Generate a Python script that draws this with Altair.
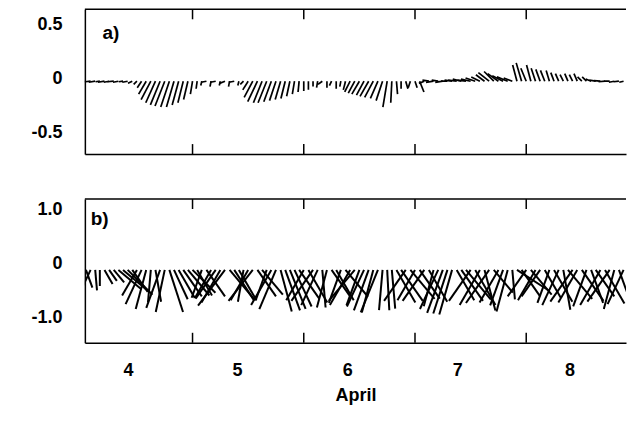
import altair as alt
import pandas as pd

# ---------------- data ----------------
hours = list(range(1, 118))  # hourly samples, hour counted from 00:00 April 4

# panel a : vector components (u east, v north)
va = [-0.01, -0.005, -0.01, -0.005, -0.01, -0.01, -0.005, -0.01, -0.005, -0.01, -0.02, -0.03,
      -0.06, -0.12, -0.17, -0.20, -0.22, -0.23, -0.24, -0.24, -0.22, -0.20, -0.17, -0.12, -0.07,
      -0.04, -0.01, -0.05, -0.01, -0.04, -0.02, -0.05, -0.01, -0.04, -0.03,
      -0.08, -0.15, -0.19, -0.20, -0.20, -0.19, -0.18, -0.17, -0.16, -0.14, -0.12, -0.10, -0.09,
      -0.08, -0.05, -0.06, -0.03, -0.06, -0.04, -0.07, -0.05, -0.08,
      -0.10, -0.11, -0.12, -0.13, -0.14, -0.15, -0.16, -0.18, -0.24, -0.20, -0.12, -0.07, -0.07,
      -0.06, -0.06, -0.10, -0.02, 0.01, -0.01, 0.01, -0.01, 0.0, 0.01, 0.01, 0.02,
      0.01, 0.02, 0.03, 0.04, 0.06, 0.08, 0.09, 0.07, 0.05, 0.04, 0.03,
      0.15, 0.17, 0.12, 0.15, 0.12, 0.11, 0.10, 0.10, 0.08, 0.07, 0.06, 0.07, 0.06, 0.07, 0.04,
      0.04, 0.02, 0.01, 0.005, -0.005, 0.0, -0.01, -0.005, -0.01]
ua = [-0.06, -0.05, -0.06, -0.04, -0.06, -0.05, -0.06, -0.05, -0.04, -0.05, -0.04, -0.03,
      -0.04, -0.07, -0.09, -0.09, -0.09, -0.09, -0.08, -0.07, -0.06, -0.05, -0.04, -0.02, -0.01,
      -0.01, -0.05, -0.01, -0.05, -0.01, -0.05, -0.01, -0.05, -0.01, -0.03,
      -0.05, -0.08, -0.09, -0.08, -0.08, -0.07, -0.06, -0.05, -0.04, -0.03, -0.02, -0.01, 0.0,
      0.0, 0.0, -0.01, -0.04, 0.0, -0.02, 0.0, -0.01, -0.02,
      -0.05, -0.06, -0.07, -0.07, -0.08, -0.08, -0.07, -0.06, -0.04, -0.01, 0.01, 0.0, 0.02,
      -0.02, 0.02, 0.04, -0.05, -0.06, -0.07, -0.06, -0.07, -0.06, -0.07, -0.08, -0.08,
      -0.08, -0.09, -0.09, -0.08, -0.08, -0.10, -0.09, -0.10, -0.10, -0.10, -0.08,
      -0.04, -0.05, -0.05, -0.04, -0.04, -0.04, -0.04, -0.03, -0.03, -0.03, -0.03, -0.03, -0.03,
      -0.03, -0.04, -0.04, -0.05, -0.06, -0.06, -0.06, -0.05, -0.05, -0.05, -0.04]

# panel b : direction (deg from south, + = towards east) and speed
ang_b = [20, -25, 5, 0, 30, 35, 40, 50, 50, 45,
         35, -30, -25, -15, -5, 10, -20, -12, 18, 25,
         30, 35, 40, 45, 30, -20, 35, -30, -35, -30,
         -37, 40, 33, 30, -10, -30, -38, 35, 40, -20,
         -30, -23, 15, 20, 22, 25, 35, -30, 30, -35,
         -25, 5, -15, 35, 30, -20, 40, -30, -40, -20,
         -25, -20, -15, -22, -5, 3, 5, 30, 35, -35,
         40, -30, 35, -35, 30, -15, -25, -20, -18, -16,
         30, 35, 40, -35, 30, -30, 15, -35, 40, -30,
         -20, -15, 5, 57, 35, -35, 40, -30, -35, 30,
         -20, 30, -25, 10, 40, -35, -30, 35, -20, 20,
         35, -30, 30, -35, -15, 20, -25]
len_b = [0.35, 0.38, 0.38, 0.30, 0.30, 0.25, 0.30, 0.55, 0.60, 0.65,
         0.50, 0.55, 0.70, 0.75, 0.60, 0.60, 0.75, 0.80, 0.82, 0.60,
         0.60, 0.60, 0.62, 0.60, 0.55, 0.55, 0.60, 0.60, 0.65, 0.70,
         0.83, 0.70, 0.68, 0.65, 0.60, 0.65, 0.73, 0.60, 0.60, 0.60,
         0.75, 0.79, 0.80, 0.80, 0.78, 0.75, 0.65, 0.65, 0.70, 0.70,
         0.72, 0.70, 0.72, 0.60, 0.65, 0.65, 0.65, 0.75, 0.75, 0.70,
         0.75, 0.80, 0.82, 0.85, 0.75, 0.75, 0.72, 0.70, 0.70, 0.70,
         0.70, 0.65, 0.65, 0.70, 0.68, 0.70, 0.80, 0.85, 0.85, 0.86,
         0.65, 0.70, 0.72, 0.70, 0.75, 0.75, 0.78, 0.75, 0.55, 0.70,
         0.70, 0.80, 0.55, 0.72, 0.60, 0.60, 0.60, 0.65, 0.60, 0.60,
         0.65, 0.68, 0.72, 0.75, 0.70, 0.72, 0.70, 0.70, 0.72, 0.65,
         0.60, 0.75, 0.72, 0.72, 0.75, 0.70, 0.70]

tick_days = [5, 6, 7, 8]
label_days = [4.42, 5.40, 6.39, 7.38, 8.39]
ya_ticks = [-0.5, 0, 0.5]
yb_ticks = [-1.0, 0, 1.0]

# ---------------- layout ----------------
FONT = "Liberation Sans"
X_DOMAIN = [4.032, 8.897]
PLOT_W = 542
H_A, H_B = 145, 144
YA = [-0.676, 0.667]
YB = [-1.352, 1.315]
PX_PER_DAY = PLOT_W / (X_DOMAIN[1] - X_DOMAIN[0])
KA = (H_A / (YA[1] - YA[0])) / PX_PER_DAY   # days per unit of u (equal aspect)
KB = (H_B / (YB[1] - YB[0])) / PX_PER_DAY
TICK_PX = 10

xs = alt.Scale(domain=X_DOMAIN, nice=False, zero=False)
LABEL_EXPR = "datum.value == 0 ? '0' : (datum.value < 0 ? '-' : '') + format(abs(datum.value), '.1f')"


def yaxis(vals, off):
    return alt.Axis(values=vals, labelExpr=LABEL_EXPR, ticks=False, tickSize=0, domain=True,
                    domainColor="black", domainWidth=1.5,
                    grid=False, labelPadding=23, labelFontSize=18, labelFont=FONT,
                    labelFontWeight="bold", labelColor="black", labelOffset=off,
                    minExtent=80, maxExtent=80, title=None)


xaxis_a = alt.Axis(labels=False, ticks=False, tickSize=0, domain=True, domainColor="black",
                   domainWidth=1.5, grid=False, title=None)

xaxis_b = alt.Axis(values=label_days, labelExpr="floor(datum.value) + ''", ticks=False, tickSize=0,
                   domain=True, domainColor="black", domainWidth=1.5,
                   grid=False, labelPadding=19, labelFontSize=18, labelFont=FONT,
                   labelFontWeight="bold", labelColor="black", labelFlush=False, labelOverlap=False,
                   title="April", titleFont=FONT, titleFontSize=18, titleFontWeight="bold",
                   titleColor="black", titlePadding=7)


def panel(base, k, ydom, height, vals, off, letter, letter_xy, xaxis, sw):
    ys = alt.Scale(domain=ydom, nice=False, zero=False)
    sticks = base.transform_calculate(
        day="4 + datum.hour / 24",
        xe=f"4 + datum.hour / 24 + datum.u * {k}",
        y0="0",
    ).mark_rule(color="black", strokeWidth=sw, clip=True).encode(
        x=alt.X("day:Q", scale=xs, axis=xaxis),
        x2="xe:Q",
        y=alt.Y("y0:Q", scale=ys, axis=yaxis(vals, off)),
        y2="v:Q",
    )
    tl = TICK_PX * (ydom[1] - ydom[0]) / height
    tdf = pd.DataFrame({
        "day": tick_days * 2,
        "y1": [ydom[1]] * len(tick_days) + [ydom[0]] * len(tick_days),
        "y2": [ydom[1] - tl] * len(tick_days) + [ydom[0] + tl] * len(tick_days),
    })
    ticks = alt.Chart(tdf).mark_rule(color="black", strokeWidth=1.5).encode(
        x=alt.X("day:Q", scale=xs), y=alt.Y("y1:Q", scale=ys), y2="y2:Q")
    # top edge of the frame
    fdf = pd.DataFrame({"x1": [X_DOMAIN[0]], "x2": [X_DOMAIN[1]], "y": [ydom[1]]})
    top = alt.Chart(fdf).mark_rule(color="black", strokeWidth=1.5).encode(
        x=alt.X("x1:Q", scale=xs), x2="x2:Q", y=alt.Y("y:Q", scale=ys))
    ldf = pd.DataFrame({"day": [letter_xy[0]], "y": [letter_xy[1]], "t": [letter]})
    text = alt.Chart(ldf).mark_text(align="left", baseline="middle", fontSize=19,
                                    font=FONT, fontWeight="bold", color="black").encode(
        x=alt.X("day:Q", scale=xs), y=alt.Y("y:Q", scale=ys), text="t:N")
    return alt.layer(sticks, ticks, top, text).properties(width=PLOT_W, height=height)


df_a = pd.DataFrame({"hour": hours, "u": ua, "v": va})
df_b = pd.DataFrame({"hour": hours, "ang": ang_b, "len": len_b})

base_a = alt.Chart(df_a)
# panel b components computed by Vega from direction and speed
base_b = alt.Chart(df_b).transform_calculate(
    u="datum.len * sin(datum.ang * PI / 180)",
    v="-datum.len * cos(datum.ang * PI / 180)",
)

panel_a = panel(base_a, KA, YA, H_A, ya_ticks, -2.5, "a)", (4.19, 0.45), xaxis_a, 1.7)
panel_b = panel(base_b, KB, YB, H_B, yb_ticks, -6, "b)", (4.085, 0.95), xaxis_b, 2.0)

chart = alt.vconcat(panel_a, panel_b, spacing=43).properties(
    padding={"left": 5, "top": 8, "right": 0, "bottom": 0}
).configure(background="white").configure_view(stroke=None)

chart.save("out.html", embed_options={"renderer": "svg", "actions": False})
